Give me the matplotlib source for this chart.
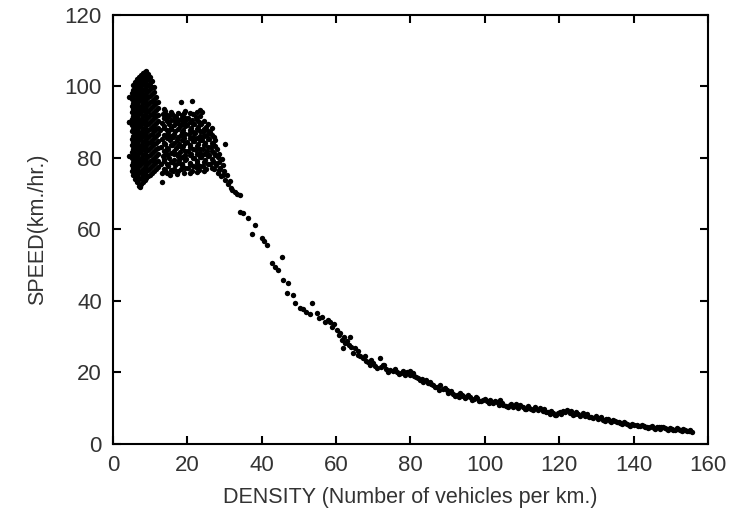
import matplotlib.pyplot as plt

# free-flow column (density ~4-12 veh/km)
ff_density = ([4.2, 4.4, 4.4, 4.4]
              + [5.0] * 13 + [5.5] * 15 + [6.0] * 16 + [6.5] * 17 + [7.0] * 18
              + [7.5] * 18 + [8.0] * 18 + [8.5] * 18 + [9.0] * 18 + [9.5] * 17
              + [10.0] * 16 + [10.5] * 15 + [11.0] * 14 + [11.5] * 12 + [12.0] * 11)
ff_speed = [90.0, 80.6, 90.1, 96.9,
            76.3, 78.0, 80.1, 81.7, 83.6, 85.4, 87.5, 89.2, 91.0, 92.9, 94.6, 96.5, 98.2,
            75.1, 77.2, 78.9, 80.8, 82.5, 84.4, 86.1, 88.2, 90.0, 91.8, 93.7, 95.3, 97.2, 98.9, 100.3,
            74.0, 76.1, 77.8, 79.7, 81.5, 83.3, 85.2, 86.9, 88.8, 90.6, 92.4, 94.3, 96.0, 97.9, 99.6, 101.1,
            73.2, 75.0, 76.9, 78.7, 80.5, 82.4, 84.1, 86.0, 87.8, 89.6, 91.5, 93.2, 95.1, 96.8, 98.6, 100.4, 102.0,
            72.1, 74.1, 75.8, 77.7, 79.4, 81.3, 83.0, 84.9, 86.7, 88.6, 90.3, 92.2, 93.9, 95.8, 97.5, 99.3, 101.1, 102.6,
            72.6, 74.5, 76.4, 78.2, 80.0, 81.9, 83.7, 85.5, 87.3, 89.1, 91.0, 92.8, 94.6, 96.4, 98.2, 100.0, 101.8, 103.2,
            73.3, 75.2, 77.0, 78.9, 80.7, 82.5, 84.4, 86.2, 88.0, 89.9, 91.7, 93.5, 95.3, 97.1, 99.0, 100.7, 102.4, 103.7,
            73.8, 75.8, 77.5, 79.3, 81.2, 83.0, 84.8, 86.7, 88.5, 90.4, 92.1, 94.0, 95.8, 97.6, 99.4, 101.2, 102.9, 104.1,
            74.4, 76.3, 78.1, 79.9, 81.8, 83.6, 85.4, 87.2, 89.1, 90.9, 92.7, 94.5, 96.4, 98.1, 100.0, 101.7, 103.4, 104.3,
            74.9, 76.7, 78.6, 80.4, 82.2, 84.1, 85.9, 87.7, 89.6, 91.4, 93.2, 95.0, 96.9, 98.7, 100.5, 102.2, 103.6,
            75.3, 77.2, 79.0, 80.9, 82.7, 84.5, 86.4, 88.2, 90.0, 91.9, 93.7, 95.5, 97.4, 99.2, 101.0, 102.7,
            75.8, 77.7, 79.5, 81.3, 83.2, 85.0, 86.8, 88.7, 90.5, 92.3, 94.2, 96.0, 97.8, 99.7, 101.5,
            76.4, 78.3, 80.1, 81.9, 83.8, 85.6, 87.4, 89.3, 91.1, 92.9, 94.8, 96.6, 98.4, 99.9,
            76.9, 78.8, 80.6, 82.5, 84.3, 86.1, 88.0, 89.8, 91.6, 93.5, 95.3, 97.1,
            77.4, 79.2, 81.1, 82.9, 84.8, 86.6, 88.4, 90.3, 92.1, 94.0, 95.6]

# second cluster (density ~13-32 veh/km)
sc_density = [13.2, 12.8, 13.4, 12.9, 13.3, 12.7, 13.1, 13.5,
              14.1, 13.7, 14.3, 13.9, 14.4, 13.8, 14.2, 14.0,
              15.3, 14.8, 15.1, 14.7, 15.4, 14.9, 15.2, 15.0,
              16.2, 15.8, 16.4, 15.9, 16.1, 15.7, 16.3, 16.0,
              17.1, 16.7, 17.4, 16.9, 17.2, 16.8, 17.3, 17.0,
              18.3, 17.8, 18.1, 17.7, 18.4, 17.9, 18.2, 18.3,
              19.2, 18.7, 19.4, 18.9, 19.1, 18.8, 19.3, 19.0,
              20.1, 19.7, 20.3, 19.8, 20.4, 19.9, 20.2,
              21.3, 20.8, 21.1, 20.7, 21.4, 20.9, 21.2, 21.2,
              22.2, 21.8, 22.4, 21.9, 22.1, 21.7, 22.3,
              23.1, 22.7, 23.3, 22.8, 23.4, 22.9, 23.2, 23.4,
              24.2, 23.8, 24.3, 23.9, 24.1, 23.7, 23.9,
              25.1, 24.7, 25.3, 24.8, 25.2, 24.9,
              26.2, 25.8, 26.3, 25.9, 26.1,
              27.3, 26.8, 27.1, 26.9, 27.2,
              28.2, 27.8, 28.3, 27.9,
              29.1, 28.8, 29.3,
              30.1, 29.8, 30.1,
              30.9, 30.6,
              31.7, 31.4,
              13.2, 7.3]
sc_speed = [75.8, 78.3, 80.6, 83.0, 85.2, 87.7, 89.9, 92.3,
            76.6, 79.0, 81.5, 83.8, 86.3, 88.5, 91.0, 93.0,
            75.2, 77.7, 80.1, 82.4, 84.9, 87.2, 89.6, 91.8,
            76.3, 78.9, 81.2, 83.5, 85.9, 88.2, 90.5, 92.4,
            75.5, 77.9, 80.4, 82.7, 85.1, 87.5, 89.8, 91.5,
            76.8, 79.3, 81.6, 84.0, 86.4, 88.8, 90.9, 95.7,
            75.9, 78.4, 80.8, 83.2, 85.6, 87.9, 90.2, 92.5,
            77.1, 79.6, 82.0, 84.4, 86.8, 89.1, 91.2,
            76.2, 78.7, 81.1, 83.5, 85.9, 88.3, 90.6, 95.8,
            77.4, 79.9, 82.3, 84.6, 87.0, 89.4, 91.5,
            76.5, 79.0, 81.4, 83.8, 86.2, 88.6, 90.1, 93.4,
            77.8, 80.2, 82.6, 85.0, 87.3, 89.5, 92.8,
            77.0, 79.5, 81.8, 84.2, 86.5, 88.7,
            78.3, 80.7, 83.1, 85.4, 87.2,
            76.8, 79.2, 81.5, 83.9, 85.8,
            75.7, 78.0, 80.3, 82.6,
            74.9, 77.3, 79.6,
            73.8, 76.4, 83.9,
            72.7, 75.1,
            71.5, 73.6,
            73.3, 71.9]

# in-between readings of the second cluster
sc2_density = ([13.6] * 8 + [14.5] * 8 + [15.6] * 8 + [16.5] * 7 + [17.5] * 8
               + [18.6] * 7 + [19.5] * 8 + [20.6] * 8 + [21.5] * 7 + [22.6] * 8
               + [23.5] * 7 + [24.6] * 7 + [25.5] * 6 + [26.5] * 6 + [27.5] * 4
               + [28.5] * 3 + [29.5] * 2)
sc2_speed = [77.0, 79.6, 81.9, 84.1, 86.5, 88.9, 91.1, 93.6,
             75.9, 78.2, 80.8, 82.9, 85.5, 87.8, 90.2, 92.1,
             76.6, 78.9, 81.3, 83.7, 86.0, 88.4, 90.7, 92.9,
             77.0, 79.5, 81.9, 84.3, 86.8, 89.1, 91.6,
             76.3, 78.6, 81.0, 83.4, 85.8, 88.1, 90.5, 92.6,
             78.0, 80.3, 82.8, 85.1, 87.3, 89.8, 92.0,
             77.2, 79.4, 81.9, 84.3, 86.7, 89.0, 91.3, 93.2,
             75.8, 78.3, 80.8, 83.0, 85.5, 87.8, 90.0, 92.5,
             77.7, 80.1, 82.5, 84.8, 87.2, 89.6, 92.2,
             76.1, 78.6, 81.0, 83.3, 85.7, 88.0, 90.7, 92.9,
             77.6, 80.3, 82.5, 84.9, 87.4, 89.9, 91.8,
             76.4, 78.8, 81.2, 83.7, 86.0, 88.2, 90.4,
             78.2, 80.6, 83.0, 85.3, 87.6, 89.6,
             77.1, 79.6, 81.9, 84.3, 86.4, 88.3,
             78.5, 80.9, 83.2, 85.0,
             76.5, 78.9, 81.2,
             75.3, 78.1]

# congested branch (density ~32-156 veh/km)
cg_density = [32.0, 32.8, 33.4, 34.1, 34.1, 35.0, 36.4, 38.2, 37.3, 40.0, 40.6, 41.3,
              45.4, 42.7, 43.5, 44.4, 45.8, 47.1, 46.7, 48.4, 49.0, 53.5, 50.3, 51.2,
              52.0, 53.0, 54.8, 55.5, 56.2, 57.0, 57.8, 58.3, 59.0, 60.2, 61.0, 63.7,
              61.6, 62.5, 61.8, 63.5, 65.0, 64.5, 66.0, 67.2, 68.0, 69.0, 70.0, 71.8,
              71.0, 72.6, 73.5, 74.5, 75.3, 76.3, 77.5, 79.0, 79.8, 80.6, 81.5, 82.5,
              83.4, 84.2, 85.2, 86.0, 87.1, 88.0, 88.8, 89.8, 90.7, 91.5, 92.5, 93.4,
              94.2, 95.0, 96.0, 97.0, 98.0, 99.0, 99.5, 100.5, 101.4, 102.3, 103.2, 104.0,
              105.0, 105.8, 106.7, 107.6, 108.5, 109.4, 110.2, 111.1, 112.0, 113.0, 114.8, 115.6,
              116.5, 117.4, 118.3, 119.2, 120.1, 121.0, 122.0, 122.9, 123.8, 124.6, 125.5, 126.3,
              127.2, 128.1, 129.0, 129.9, 130.9, 131.8, 132.7, 133.6, 134.5, 135.5, 136.4, 137.3,
              138.2, 139.1, 140.0, 140.9, 141.8, 142.7, 143.6, 144.5, 145.4, 146.2, 147.1, 148.0,
              148.9, 149.8, 150.7, 151.6, 152.5, 153.4, 154.3, 155.2, 155.8,
              59.5, 60.8, 62.0, 63.0, 64.0, 65.8, 66.5, 67.8, 68.6, 69.5, 70.5, 72.0,
              73.0, 74.0, 75.8, 76.8, 78.0, 78.5, 80.0, 81.0, 82.0, 83.0, 84.7, 85.6,
              86.5, 87.6, 89.3, 90.2, 91.0, 92.0, 93.0, 93.8, 94.6, 95.5, 96.5, 97.5,
              98.5, 100.0, 101.0, 101.8, 102.8, 103.7, 104.5, 106.2, 107.1, 108.0, 109.0, 110.7,
              111.5, 112.5, 113.5, 114.2, 116.0, 117.0, 117.8, 118.8, 119.7, 120.6, 121.5, 123.3,
              124.2, 125.0, 126.8, 127.6, 128.5, 130.4, 131.3, 132.2, 133.1, 134.0, 135.0, 136.0,
              136.9, 137.8, 138.7, 139.5, 141.3, 142.2, 143.1, 144.0, 145.0, 145.8, 146.7, 147.5,
              148.4, 149.3, 150.2, 151.2, 152.0, 153.0, 153.8, 154.8]
cg_speed = [71.0, 70.5, 69.9, 69.7, 65.0, 64.6, 63.2, 61.2, 58.7, 57.6, 56.8, 55.7,
            52.3, 50.6, 49.6, 48.7, 45.9, 45.0, 42.2, 41.7, 39.4, 39.4, 38.0, 37.8,
            37.0, 36.2, 36.6, 35.2, 35.5, 34.0, 34.7, 34.2, 32.8, 31.9, 31.0, 30.0,
            29.1, 28.3, 26.9, 27.6, 26.9, 25.4, 25.0, 24.0, 23.3, 22.1, 22.6, 24.0,
            21.3, 22.1, 21.0, 20.7, 20.3, 20.1, 19.8, 20.1, 19.4, 19.9, 18.6, 17.9,
            17.2, 18.0, 17.3, 16.5, 15.9, 16.4, 15.3, 15.1, 14.6, 14.0, 13.7, 14.2,
            13.5, 13.0, 13.1, 12.6, 12.9, 12.1, 12.3, 11.9, 12.4, 11.3, 11.7, 12.3,
            11.0, 10.6, 10.9, 10.2, 11.1, 10.9, 10.3, 9.8, 10.1, 9.5, 10.0, 9.2,
            9.0, 8.4, 8.7, 8.0, 8.9, 9.3, 9.5, 8.6, 8.2, 8.8, 7.9, 8.7,
            8.0, 7.6, 7.2, 7.8, 7.3, 6.8, 7.0, 6.4, 6.7, 6.2, 5.8, 6.0,
            5.5, 5.1, 5.3, 5.3, 4.9, 5.0, 4.6, 4.8, 4.5, 4.8, 4.3, 4.6,
            4.2, 4.4, 4.0, 4.5, 3.9, 4.1, 3.6, 3.8, 3.4,
            33.5, 30.5, 29.8, 28.8, 27.2, 26.0, 24.5, 24.6, 22.8, 23.4, 21.8, 21.6,
            22.0, 20.0, 21.0, 19.5, 20.5, 19.2, 20.4, 19.1, 18.5, 18.2, 17.0, 16.8,
            16.0, 15.2, 15.6, 14.3, 14.8, 13.4, 13.0, 13.8, 12.9, 13.6, 12.4, 13.2,
            12.0, 12.6, 11.4, 11.8, 12.0, 10.8, 11.5, 10.4, 11.2, 10.7, 10.0, 9.9,
            10.6, 9.7, 10.3, 9.4, 9.8, 8.9, 9.3, 8.2, 8.6, 8.3, 8.9, 9.1,
            8.5, 8.4, 7.7, 8.3, 7.5, 7.0, 7.5, 6.5, 6.9, 6.2, 6.5, 6.0,
            5.6, 5.9, 5.3, 5.6, 5.0, 5.2, 4.8, 4.4, 4.9, 4.3, 4.6, 4.8,
            4.4, 4.0, 4.3, 4.0, 4.3, 3.7, 4.0, 3.5]

x_ticks = [0, 20, 40, 60, 80, 100, 120, 140, 160]
y_ticks = [0, 20, 40, 60, 80, 100, 120]

plt.rcParams['font.family'] = ['Liberation Sans', 'DejaVu Sans']
text_color = '#333333'

fig = plt.figure(figsize=(7.48, 5.21), dpi=100)
ax = fig.add_axes([0.151, 0.148, 0.7955, 0.8234])

groups = [(ff_density, ff_speed), (sc_density, sc_speed),
          (sc2_density, sc2_speed), (cg_density, cg_speed)]
for xs, ys in groups:
    ax.scatter(xs, ys, s=15, color='black', linewidths=0)

ax.set_xlim(0, 160)
ax.set_ylim(0, 120)
ax.set_xticks(x_ticks)
ax.set_yticks(y_ticks)
ax.tick_params(direction='in', length=6, width=1.5, top=True, right=True,
               labelsize=16, labelcolor=text_color, pad=8)
for sp in ax.spines.values():
    sp.set_linewidth(1.5)

ax.set_xlabel('DENSITY (Number of vehicles per km.)', fontsize=15.5,
              color=text_color, labelpad=8)
ax.set_ylabel('SPEED(km./hr.)', fontsize=15.5, color=text_color, labelpad=12)

plt.savefig('out.png', dpi=100, facecolor='white')
